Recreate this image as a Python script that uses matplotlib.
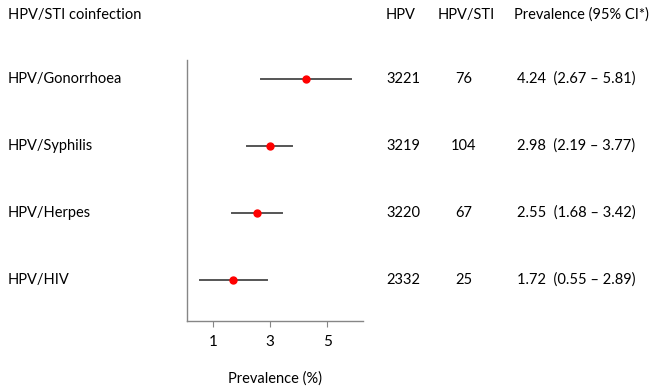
import matplotlib.pyplot as plt

plt.rcParams['font.family'] = ['Lato', 'DejaVu Sans']

labels = ['HPV/Gonorrhoea', 'HPV/Syphilis', 'HPV/Herpes', 'HPV/HIV']
hpv_n = [3221, 3219, 3220, 2332]
sti_n = [76, 104, 67, 25]
prev = [4.24, 2.98, 2.55, 1.72]
ci_low = [2.67, 2.19, 1.68, 0.55]
ci_high = [5.81, 3.77, 3.42, 2.89]
ticks = [1, 3, 5]

fig = plt.figure(figsize=(6.56, 3.91), dpi=100)
ax = fig.add_axes([0.285, 0.179, 0.268, 0.668])

rows = [4, 3, 2, 1]
for y, p, lo, hi in zip(rows, prev, ci_low, ci_high):
    ax.plot([lo, hi], [y, y], color='#555555', lw=1.4, zorder=1)
    ax.plot(p, y, 'o', color='#ff0000', ms=5, zorder=2)

ax.set_xlim(0.1, 6.23)
ax.set_ylim(0.39, 4.28)
ax.set_xticks(ticks)
ax.set_yticks([])
ax.spines['top'].set_visible(False)
ax.spines['right'].set_visible(False)
for s in ['left', 'bottom']:
    ax.spines[s].set_color('#868686')
    ax.spines[s].set_linewidth(1.0)
ax.tick_params(axis='x', colors='#868686', labelcolor='black', labelsize=11,
               length=4, pad=6)
ax.set_xlabel('Prevalence (%)', fontsize=10.5, labelpad=16)

# table text in figure coordinates
W, H = 656, 391
def ftxt(x, y, s, ha='left'):
    fig.text(x / W, 1 - y / H, s, ha=ha, va='center', fontsize=10.5)

ftxt(8, 15, 'HPV/STI coinfection')
ftxt(386, 15, 'HPV')
ftxt(466, 15, 'HPV/STI', ha='center')
ftxt(514, 15, 'Prevalence (95% CI*)')

row_px = [79, 146, 213, 280]
for yp, lab, a, b, p, lo, hi in zip(row_px, labels, hpv_n, sti_n, prev, ci_low, ci_high):
    ftxt(8, yp, lab)
    ftxt(386, yp, str(a))
    ftxt(464, yp, str(b), ha='center')
    ftxt(517, yp, f'{p:.2f}  ({lo:.2f} \u2013 {hi:.2f})')

fig.savefig('out.png', dpi=100)
